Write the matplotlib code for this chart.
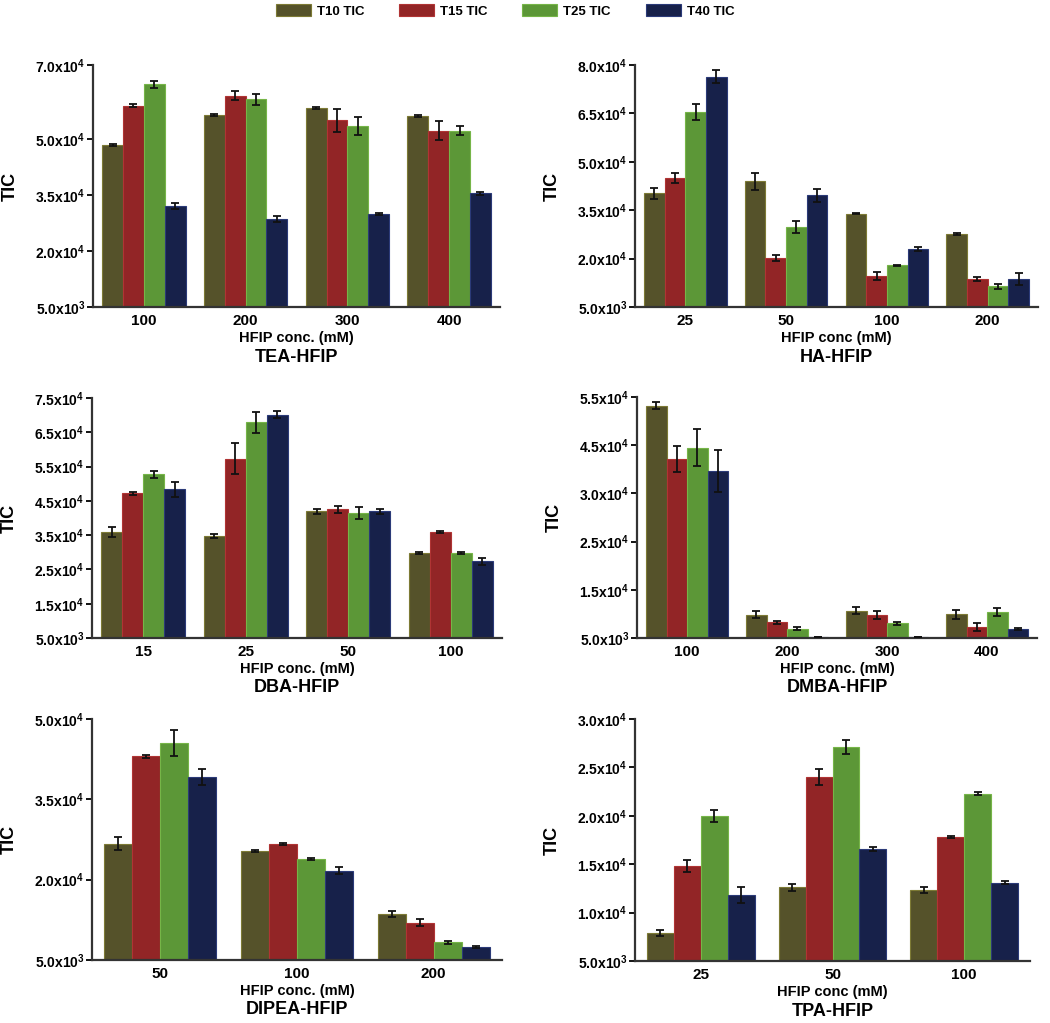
import matplotlib
matplotlib.use('Agg')
import matplotlib.pyplot as plt
import numpy as np

plt.rcParams['font.family'] = ['Liberation Sans', 'DejaVu Sans']
plt.rcParams['font.weight'] = 'bold'
plt.rcParams['mathtext.default'] = 'regular'

# series names and colours
series = ['T10 TIC', 'T15 TIC', 'T25 TIC', 'T40 TIC']
colors = ['#55522a', '#922526', '#5c9737', '#17214a']
edges = ['#7d7a35', '#b03434', '#76b548', '#2b3a78']

# TEA-HFIP
tea_conc = ['100', '200', '300', '400']
tea_vals = [[48600, 56600, 58500, 56300],
            [59000, 61700, 55100, 52400],
            [64800, 60800, 53600, 52400],
            [32000, 28600, 30000, 35600]]
tea_err = [[300, 200, 200, 300],
           [400, 1200, 3200, 2500],
           [1000, 1500, 2300, 1200],
           [800, 900, 300, 400]]

# HA-HFIP
ha_conc = ['25', '50', '100', '200']
ha_vals = [[40200, 43900, 33900, 27700],
           [45000, 20200, 14500, 13700],
           [65500, 29700, 17900, 11400],
           [76300, 39600, 23000, 13700]]
ha_err = [[1600, 2600, 200, 300],
          [1500, 1000, 1200, 600],
          [2500, 1800, 200, 700],
          [2000, 2000, 700, 1800]]

# DBA-HFIP
dba_conc = ['15', '25', '50', '100']
dba_vals = [[36000, 34800, 41900, 29700],
            [47200, 57300, 42500, 35800],
            [52800, 67900, 41400, 29700],
            [48400, 70100, 41900, 27400]]
dba_err = [[1500, 600, 800, 300],
           [500, 4500, 1000, 300],
           [1000, 3000, 1800, 300],
           [2200, 1000, 700, 1000]]

# DMBA-HFIP
dmba_conc = ['100', '200', '300', '400']
dmba_vals = [[53200, 9800, 10700, 9900],
             [42200, 8300, 9700, 7300],
             [44500, 6900, 8100, 10400],
             [39700, 5200, 5200, 6900]]
dmba_err = [[700, 700, 800, 900],
            [2700, 300, 800, 800],
            [3800, 300, 300, 900],
            [4400, 0, 0, 200]]

# DIPEA-HFIP
dipea_conc = ['50', '100', '200']
dipea_vals = [[26700, 25400, 13600],
              [43000, 26600, 12000],
              [45500, 23800, 8300],
              [39100, 21700, 7500]]
dipea_err = [[1200, 200, 500],
             [200, 200, 600],
             [2500, 200, 300],
             [1500, 700, 200]]

# TPA-HFIP
tpa_conc = ['25', '50', '100']
tpa_vals = [[7900, 12600, 12300],
            [14800, 24000, 17800],
            [20000, 27100, 22300],
            [11800, 16600, 13100]]
tpa_err = [[300, 400, 300],
           [600, 800, 100],
           [600, 700, 150],
           [800, 200, 150]]

# y ticks and labels (as printed)
tea_ticks = [5000, 20000, 35000, 50000, 70000]
tea_labels = ['5.0', '2.0', '3.5', '5.0', '7.0']
ha_ticks = [5000, 20000, 35000, 50000, 65000, 80000]
ha_labels = ['5.0', '2.0', '3.5', '5.0', '6.5', '8.0']
dba_ticks = [5000, 15000, 25000, 35000, 45000, 55000, 65000, 75000]
dba_labels = ['5.0', '1.5', '2.5', '3.5', '4.5', '5.5', '6.5', '7.5']
dmba_ticks = [5000, 15000, 25000, 35000, 45000, 55000]
dmba_labels = ['5.0', '1.5', '2.5', '3.0', '4.5', '5.5']
dipea_ticks = [5000, 20000, 35000, 50000]
dipea_labels = ['5.0', '2.0', '3.5', '5.0']
tpa_ticks = [5000, 10000, 15000, 20000, 25000, 30000]
tpa_labels = ['5.0', '1.0', '1.5', '2.0', '2.5', '3.0']

W, H = 1050, 1023
fig = plt.figure(figsize=(W / 100, H / 100), dpi=100)

def fx(px):
    return px / W

def fy(py):
    return 1 - py / H

panels = [
    # name, conc, vals, err, ticks, labels, xlabel, (left, right, top, bottom) in px
    ('TEA-HFIP', tea_conc, tea_vals, tea_err, tea_ticks, tea_labels, 'HFIP conc. (mM)', (93, 500, 65, 307)),
    ('HA-HFIP', ha_conc, ha_vals, ha_err, ha_ticks, ha_labels, 'HFIP conc (mM)', (635, 1038, 65, 307)),
    ('DBA-HFIP', dba_conc, dba_vals, dba_err, dba_ticks, dba_labels, 'HFIP conc. (mM)', (92, 502, 398, 638)),
    ('DMBA-HFIP', dmba_conc, dmba_vals, dmba_err, dmba_ticks, dmba_labels, 'HFIP conc. (mM)', (637, 1037, 397, 638)),
    ('DIPEA-HFIP', dipea_conc, dipea_vals, dipea_err, dipea_ticks, dipea_labels, 'HFIP conc. (mM)', (92, 502, 719, 960)),
    ('TPA-HFIP', tpa_conc, tpa_vals, tpa_err, tpa_ticks, tpa_labels, 'HFIP conc (mM)', (635, 1030, 719, 961)),
]

bw = 0.205
for name, conc, vals, err, ticks, labels, xlab, (l, r, t, b) in panels:
    ax = fig.add_axes([fx(l), fy(b), (r - l) / W, (b - t) / H])
    x = np.arange(len(conc))
    base = 5000
    for i in range(4):
        v = np.array(vals[i])
        ax.bar(x + (i - 1.5) * bw, v - base, bw, bottom=base, color=colors[i],
               edgecolor=edges[i], linewidth=0.8, zorder=2)
        ax.errorbar(x + (i - 1.5) * bw, v, yerr=err[i], fmt='none', ecolor='#111111',
                    elinewidth=1.3, capsize=3, capthick=1.3, zorder=3)
    ax.set_xlim(-0.5, len(conc) - 0.5)
    ax.set_ylim(5000, ticks[-1])
    ax.set_yticks(ticks)
    ax.set_yticklabels(['%sx10$^{%d}$' % (lb, 3 if tk < 10000 else 4) for lb, tk in zip(labels, ticks)],
                       fontsize=10, fontweight='bold')
    ax.set_xticks(x)
    ax.set_xticklabels(conc, fontsize=11, fontweight='bold')
    ax.tick_params(axis='x', length=0, pad=5)
    ax.tick_params(axis='y', length=4, width=1.3, pad=1.5)
    for s in ['top', 'right']:
        ax.spines[s].set_visible(False)
    for s in ['left', 'bottom']:
        ax.spines[s].set_linewidth(1.6)
        ax.spines[s].set_color('#333333')
    # y label, x label and panel title placed in pixels
    fig.text(fx(l - 83), fy((t + b) / 2), 'TIC', rotation=90, ha='center', va='center',
             fontsize=13, fontweight='bold')
    cx = fx((l + r) / 2)
    fig.text(cx, fy(b + 31), xlab, ha='center', va='center', fontsize=10.5, fontweight='bold')
    fig.text(cx, fy(b + 50), name, ha='center', va='center', fontsize=13, fontweight='bold')

# legend across the top
handles = [plt.Rectangle((0, 0), 1, 1, facecolor=c, edgecolor=e, linewidth=0.8)
           for c, e in zip(colors, edges)]
fig.legend(handles, series, loc='upper center', bbox_to_anchor=(0.481, 1.008), ncol=4, frameon=False,
           fontsize=9.5, handlelength=2.65, handleheight=1.1, columnspacing=2.65, handletextpad=0.45)

fig.savefig('out.png', dpi=100)
